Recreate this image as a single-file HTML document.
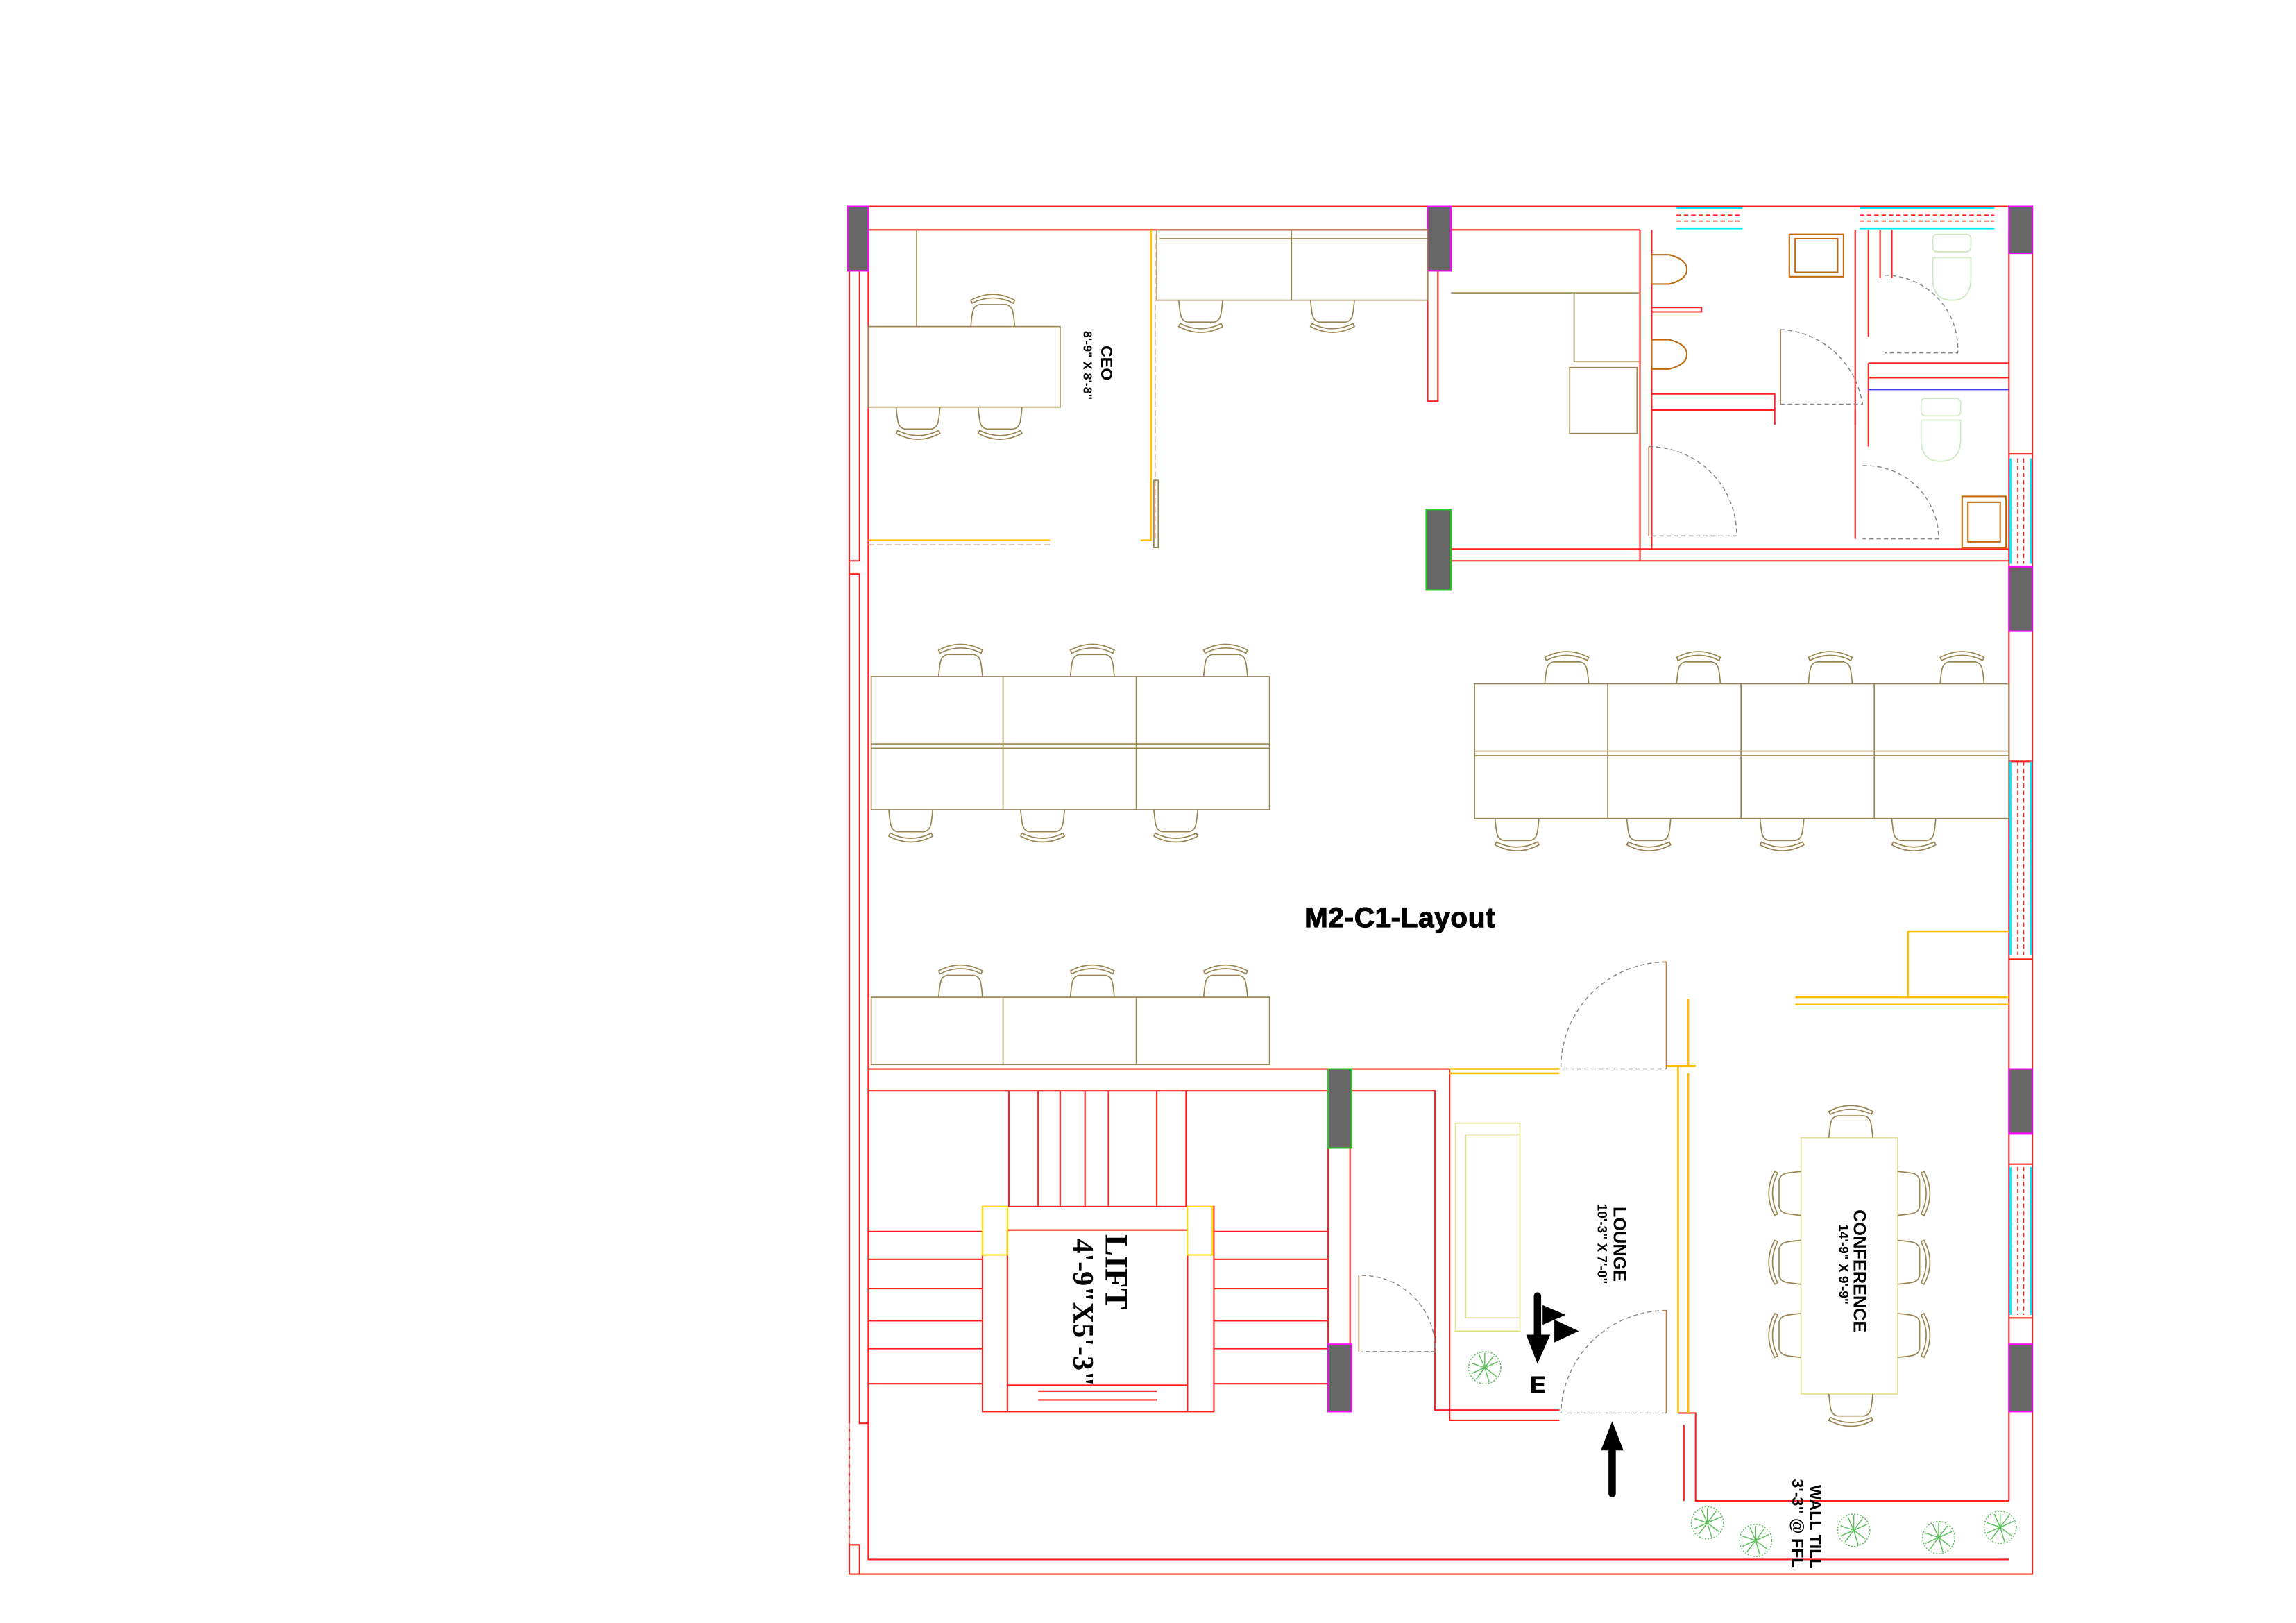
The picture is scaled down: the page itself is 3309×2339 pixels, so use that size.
<!DOCTYPE html>
<html><head><meta charset="utf-8"><style>
html,body{margin:0;padding:0;background:#fff;}
svg{display:block;}
text{font-family:"Liberation Sans",sans-serif;font-weight:bold;fill:#000;}
</style></head><body>
<svg width="3309" height="2339" viewBox="0 0 3309 2339" xmlns="http://www.w3.org/2000/svg">
<defs>
<g id="ch" fill="none" stroke="#9a8550" stroke-width="0.8">
<path d="M-15,0 C-14,-10 -14,-14 -9,-15 L9,-15 C14,-14 14,-10 15,0"/>
<path d="M-15,-18 Q0,-26 15,-18 L14,-16 Q0,-23 -14,-16 Z"/>
</g>
<g id="pl" fill="none" stroke="#5cbf5c" stroke-width="0.7">
<circle r="11" stroke-dasharray="1 1"/>
<path d="M0,0 L0,-10 M0,0 L9,-4 M0,0 L8,6 M0,0 L-6,8 M0,0 L-9,-3 M0,0 L3,10 M0,0 L-4,-9 M0,0 L-9,4 M0,0 L6,-8"/>
</g>
</defs>
<g transform="scale(2.1103)">
<g fill="none" stroke="#ff2020" stroke-width="1">
<path d="M580,141 H1388 V1075 H580 Z"/>
<path d="M593,157 H1120"/>
<path d="M593,157 V1065 H1372"/>
<path d="M1372,157 V1025"/>
<path d="M580,383 H587 V141 M580,392 H587 V972 H593"/>
<path d="M580,1055 H587 V1075"/>
<rect x="975" y="185" width="7" height="89"/>
<path d="M1120,157 V383 M1128,157 V375 M982,375 H1372 M982,383 H1372"/>
<path d="M1128,280 H1212 V269 H1128 M1128,213 H1162 V210 H1128"/>
<path d="M1267,157 V368 M1276,157 V230 M1276,248 V305 M1276,258 H1372 M1276,248 H1372"/>
<path d="M1284,157 V190 M1292,157 V190"/>
<path d="M1212,280 V290 M1267,280 V290"/>
<path d="M1372,310 H1388 M1372,520 H1388 M1372,655 H1388 M1372,795 H1388 M1372,900 H1388"/>
<path d="M593,730 H990 V970 H1065 M593,745 H980 V963 H1065"/>
<path d="M907,730 V964 M922,730 V964"/>
<path d="M689,745 V824 M709,745 V824 M724,745 V824 M741,745 V824 M757,745 V824 M790,745 V824 M810,745 V824"/>
<rect x="671" y="824" width="158" height="140"/>
<rect x="688" y="840" width="123" height="106"/>
<path d="M688,946 V964 M811,946 V964 M709,950 H790 M709,956 H790"/>
<path d="M593,841 H671 M593,860 H671 M593,880 H671 M593,902 H671 M593,921 H671 M593,945 H671"/>
<path d="M829,841 H907 M829,860 H907 M829,880 H907 M829,902 H907 M829,921 H907 M829,945 H907"/>
<path d="M1146,965 H1158 V1025 H1372 M1150,973 V1025"/>
</g>
<g stroke="#00e5ff" stroke-width="1.3" fill="none">
<path d="M1145,142 H1190 M1145,156 H1190 M1270,142 H1362 M1270,156 H1362"/>
<path d="M1373,313 V385 M1387,313 V385 M1373,520 V652 M1387,520 V652 M1373,797 V898 M1387,797 V898"/>
</g>
<g stroke="#ff2020" stroke-width="0.8" stroke-dasharray="3 2" fill="none">
<path d="M1145,147 H1190 M1145,151 H1190 M1270,147 H1362 M1270,151 H1362"/>
<path d="M1378,313 V385 M1382,313 V385 M1378,520 V652 M1382,520 V652 M1378,797 V898 M1382,797 V898"/>
</g>
<g fill="#666" stroke="#ff00ff" stroke-width="1">
<rect x="579" y="141" width="14" height="44"/>
<rect x="975" y="141" width="16" height="44"/>
<rect x="1372" y="141" width="16" height="32"/>
<rect x="1372" y="387" width="16" height="44"/>
<rect x="907" y="918" width="16" height="46"/>
<rect x="1372" y="730" width="16" height="44"/>
<rect x="1372" y="918" width="16" height="46"/>
</g>
<g fill="#666" stroke="#22cc22" stroke-width="1">
<rect x="974" y="348" width="17" height="55"/>
<rect x="907" y="730" width="16" height="54"/>
</g>
<rect x="671" y="824" width="17" height="33" fill="none" stroke="#ffe000" stroke-width="1"/>
<rect x="811" y="824" width="17" height="33" fill="none" stroke="#ffe000" stroke-width="1"/>
<g stroke="#ffbf00" stroke-width="1.2" fill="none">
<path d="M786,157 V369 H779 M593,369 H717"/>
<path d="M990,730 H1065 M990,733 H1065"/>
<path d="M1146,728 V965 M1153,733 V965 M1138,728 H1158 M1153,682 V728"/>
<path d="M1226,681 H1372 M1226,686 H1372 M1303,636 V681 M1303,636 H1372"/>
</g>
<g stroke="#d4b8a0" stroke-width="0.7" stroke-dasharray="4 2" fill="none">
<path d="M593,372 H717 M789,160 V369"/>
<path d="M580,972 V1055"/>
</g>
<g fill="none" stroke="#9a8550" stroke-width="0.8">
<rect x="593" y="223" width="131" height="55"/>
<path d="M626,157 V223"/>
<rect x="790" y="157" width="185" height="48"/>
<path d="M882,157 V205 M792,163 H975"/>
<path d="M991,200 H1120 M1075,200 V247 H1120"/>
<rect x="1072" y="251" width="46" height="45"/>
<rect x="788" y="328" width="3" height="46"/>
<rect x="595" y="462" width="272" height="91"/>
<path d="M685,462 V553 M776,462 V553 M595,508 H867 M595,511 H867"/>
<rect x="1007" y="467" width="365" height="92"/>
<path d="M1098,467 V559 M1189,467 V559 M1280,467 V559 M1007,513 H1372 M1007,516 H1372"/>
<rect x="595" y="681" width="272" height="46"/>
<path d="M685,681 V727 M776,681 V727"/>
</g>
<g fill="none" stroke="#e0e090" stroke-width="0.8">
<rect x="994" y="767" width="44" height="142"/>
<rect x="1001" y="775" width="37" height="125"/>
<rect x="1230" y="777" width="66" height="175"/>
</g>
<g fill="none" stroke="#c06a10" stroke-width="1">
<rect x="1222" y="160" width="37" height="29"/><rect x="1226" y="163" width="29" height="23"/>
<path d="M1128,174 H1140 Q1152,177 1152,184 Q1152,191 1140,194 H1128 Z"/>
<path d="M1128,232 H1140 Q1152,235 1152,242 Q1152,249 1140,252 H1128 Z"/>
<rect x="1340" y="339" width="30" height="35"/><rect x="1344" y="343" width="22" height="27"/>
</g>
<g fill="none" stroke="#cfe8c0" stroke-width="0.8">
<rect x="1320" y="160" width="26" height="12" rx="3"/>
<path d="M1320,176 H1346 V190 Q1346,205 1333,205 Q1320,205 1320,190 Z"/>
<rect x="1312" y="272" width="27" height="12" rx="3"/>
<path d="M1312,287 H1339 V300 Q1339,315 1325,315 Q1312,315 1312,300 Z"/>
</g>
<path d="M1276,266 H1372" stroke="#4040e0" stroke-width="1"/>
<g fill="none" stroke="#888" stroke-width="0.7" stroke-dasharray="3 2">
<path d="M1126,305 A60,60 0 0 1 1186,366 H1126"/>
<path d="M1216,225 A60,60 0 0 1 1272,276 H1216"/>
<path d="M1287,188 A50,50 0 0 1 1337,241 H1287"/>
<path d="M1272,318 A50,50 0 0 1 1324,368 H1272"/>
<path d="M1138,657 A72,72 0 0 0 1066,730 H1138"/>
<path d="M1138,895 A72,72 0 0 0 1066,965 H1138"/>
<path d="M930,871 A50,50 0 0 1 980,923 H930"/>
</g>
<g fill="none" stroke="#b08050" stroke-width="0.8">
<path d="M1135,657 H1138 V730 M1135,895 H1138 V965 M1126,305 V366 M1216,225 V276 M928,871 V923"/>
</g>
<use href="#ch" x="678" y="223"/>
<use href="#ch" x="627" y="278" transform="rotate(180 627 278)"/>
<use href="#ch" x="683" y="278" transform="rotate(180 683 278)"/>
<use href="#ch" x="820" y="205" transform="rotate(180 820 205)"/>
<use href="#ch" x="910" y="205" transform="rotate(180 910 205)"/>
<use href="#ch" x="656" y="462"/><use href="#ch" x="746" y="462"/><use href="#ch" x="837" y="462"/>
<use href="#ch" x="622" y="553" transform="rotate(180 622 553)"/>
<use href="#ch" x="712" y="553" transform="rotate(180 712 553)"/>
<use href="#ch" x="803" y="553" transform="rotate(180 803 553)"/>
<use href="#ch" x="1070" y="467"/><use href="#ch" x="1160" y="467"/><use href="#ch" x="1250" y="467"/><use href="#ch" x="1340" y="467"/>
<use href="#ch" x="1036" y="559" transform="rotate(180 1036 559)"/>
<use href="#ch" x="1126" y="559" transform="rotate(180 1126 559)"/>
<use href="#ch" x="1217" y="559" transform="rotate(180 1217 559)"/>
<use href="#ch" x="1307" y="559" transform="rotate(180 1307 559)"/>
<use href="#ch" x="656" y="681"/><use href="#ch" x="746" y="681"/><use href="#ch" x="837" y="681"/>
<use href="#ch" x="1264" y="777"/>
<use href="#ch" x="1264" y="952" transform="rotate(180 1264 952)"/>
<use href="#ch" x="1230" y="815" transform="rotate(-90 1230 815)"/>
<use href="#ch" x="1230" y="862" transform="rotate(-90 1230 862)"/>
<use href="#ch" x="1230" y="912" transform="rotate(-90 1230 912)"/>
<use href="#ch" x="1296" y="815" transform="rotate(90 1296 815)"/>
<use href="#ch" x="1296" y="862" transform="rotate(90 1296 862)"/>
<use href="#ch" x="1296" y="912" transform="rotate(90 1296 912)"/>
<use href="#pl" x="1014" y="934"/>
<use href="#pl" x="1166" y="1040"/><use href="#pl" x="1199" y="1052"/><use href="#pl" x="1266" y="1045"/>
<use href="#pl" x="1324" y="1050"/><use href="#pl" x="1366" y="1043"/>
<g fill="#000" stroke="#000">
<path d="M1050,885 V915" stroke-width="5" stroke-linecap="round"/>
<path d="M1043,912 H1058 L1050,930 Z"/>
<path d="M1054,892 L1068,898 L1054,904 Z M1062,902 L1077,909 L1062,916 Z"/>
<path d="M1101,1020 V988" stroke-width="5" stroke-linecap="round"/>
<path d="M1094,990 H1108 L1101,972 Z"/>
</g>
<text x="891" y="633" font-size="19" stroke="#000" stroke-width="0.6" letter-spacing="0.4">M2-C1-Layout</text>
<text x="1045" y="951" font-size="16" stroke="#000" stroke-width="0.5">E</text>
<text transform="translate(752,236) rotate(90)" font-size="11">CEO</text>
<text transform="translate(740,226) rotate(90)" font-size="8.5">8'-9" X 8'-8"</text>
<text transform="translate(1102,824) rotate(90)" font-size="12">LOUNGE</text>
<text transform="translate(1091,822) rotate(90)" font-size="9">10'-3" X 7'-0"</text>
<text transform="translate(1266,826) rotate(90)" font-size="12">CONFERENCE</text>
<text transform="translate(1256,836) rotate(90)" font-size="9">14'-9" X 9'-9"</text>
<text transform="translate(1236,1014) rotate(90)" font-size="11">WALL TILL</text>
<text transform="translate(1224,1010) rotate(90)" font-size="11">3'-3" @ FFL</text>
<text transform="translate(755,843) rotate(90)" font-size="22" style="font-family:'Liberation Serif',serif">LIFT</text>
<text transform="translate(733,846) rotate(90)" font-size="20" style="font-family:'Liberation Serif',serif">4'-9"X5'-3"</text>
</g>
</svg>
</body></html>
